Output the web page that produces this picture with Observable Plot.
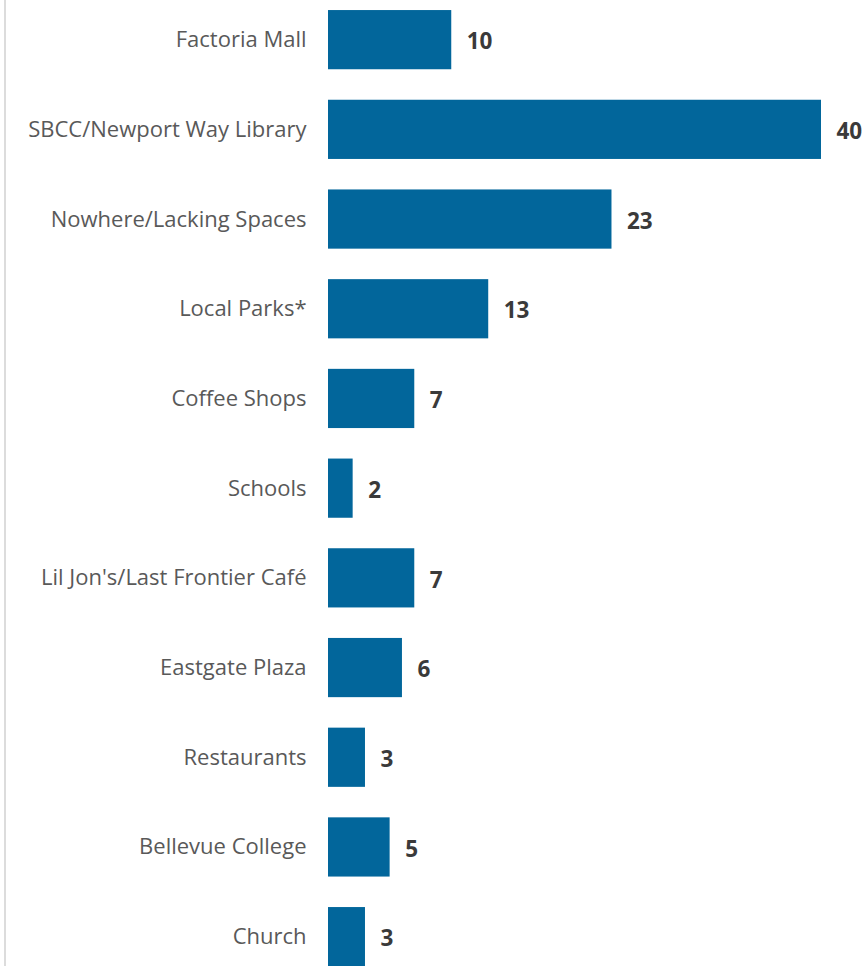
<!DOCTYPE html>
<html>
<head>
<meta charset="utf-8">
<script src="https://cdn.jsdelivr.net/npm/d3@7"></script>
<script src="https://cdn.jsdelivr.net/npm/@observablehq/plot@0.6"></script>
<style>
  html, body { margin: 0; padding: 0; background: #fff; }
  #wrap { position: relative; width: 866px; height: 966px; overflow: hidden; }
  #wrap::before { content: ""; position: absolute; left: 4px; top: 0; bottom: 0; width: 2px; background: #dcdcdc; }
</style>
</head>
<body>
<div id="wrap"></div>
<script>
const categories = [
  "Factoria Mall",
  "SBCC/Newport Way Library",
  "Nowhere/Lacking Spaces",
  "Local Parks*",
  "Coffee Shops",
  "Schools",
  "Lil Jon's/Last Frontier Café",
  "Eastgate Plaza",
  "Restaurants",
  "Bellevue College",
  "Church"
];
const counts = [10, 40, 23, 13, 7, 2, 7, 6, 3, 5, 3];

const data = categories.map((c, i) => ({category: c, count: counts[i]}));

const chart = Plot.plot({
  width: 866,
  height: 966,
  marginLeft: 328,
  marginRight: 45,
  marginTop: 0,
  marginBottom: 0,
  style: {background: "transparent", overflow: "hidden"},
  x: {domain: [0, 40], range: [328, 821], axis: null},
  y: {domain: categories, range: [-5.2, 981.5], paddingInner: 0.34, paddingOuter: 0.17, round: false, axis: null},
  marks: [
    Plot.barX(data, {x: "count", y: "category", fill: "#02669b"}),
    Plot.text(data, {
      x: 0, y: "category", text: "category",
      textAnchor: "end", dx: -22, dy: 0,
      fontFamily: "'Open Sans', 'Noto Sans', sans-serif", fontSize: 22, fill: "#595959"
    }),
    Plot.text(data, {
      x: "count", y: "category", text: d => String(d.count),
      textAnchor: "start", dx: 15, dy: 2,
      fontFamily: "'Open Sans', 'Noto Sans', sans-serif", fontWeight: "bold", fontSize: 22.5, fill: "#3a3a3a"
    })
  ]
});
document.getElementById("wrap").appendChild(chart);
</script>
</body>
</html>
